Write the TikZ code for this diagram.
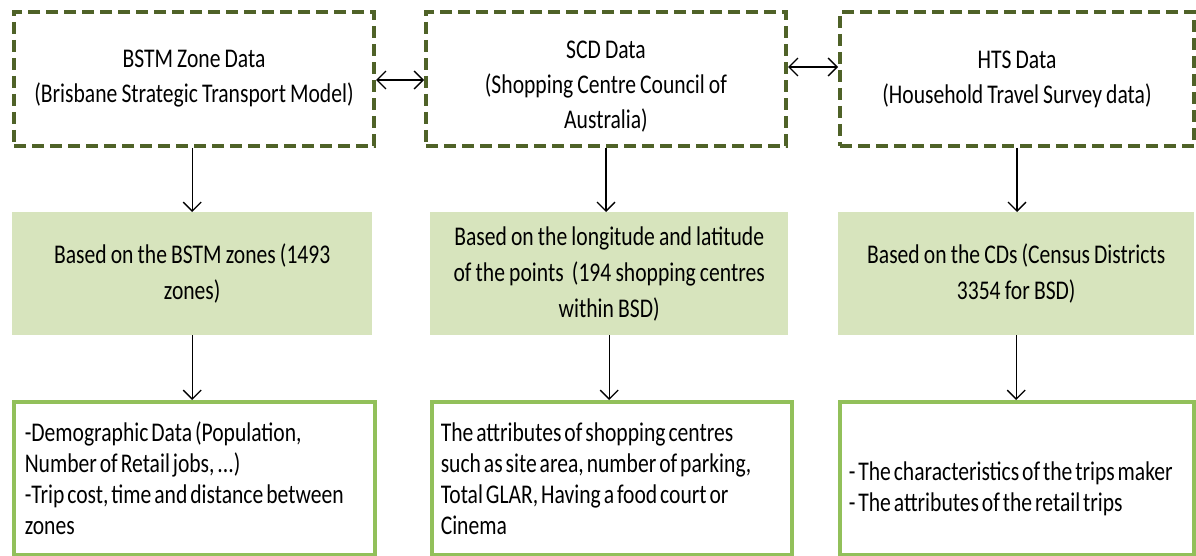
\documentclass[tikz,border=0pt]{standalone}
\usepackage{fontspec}
\setmainfont{Carlito}[FakeStretch=0.8, WordSpace=0.85]
\newfontfamily\botfont{Carlito}[FakeStretch=0.8, WordSpace=0.6]
\usetikzlibrary{arrows.meta}
\definecolor{olivedark}{HTML}{4F6228}
\definecolor{olivefill}{HTML}{D7E4BD}
\definecolor{olivebord}{HTML}{92C05A}
\tikzset{
  topbox/.style={draw=olivedark, line width=4pt, dash pattern=on 12pt off 6pt, fill=white,
    anchor=north west, minimum width=#1, minimum height=134pt, align=center,
    font=\fontsize{27pt}{35pt}\selectfont, inner sep=0pt},
  midbox/.style={fill=olivefill, draw=none, anchor=north west, minimum width=#1,
    minimum height=123pt, align=center, font=\fontsize{27pt}{36pt}\selectfont, inner sep=0pt},
  botbox/.style={draw=olivebord, line width=3.5pt, fill=white, anchor=north west,
    minimum width=#1, minimum height=153pt, align=flush left, text width=#1-18pt,
    font=\botfont\fontsize{27pt}{31pt}\selectfont, inner sep=0pt},
  arr/.style={draw=black, line width=1.3pt, -{Straight Barb[length=9pt,width=18pt,line width=1.3pt]}},
  darr/.style={draw=black, line width=1.3pt, {Straight Barb[length=9pt,width=18pt,line width=1.3pt]}-{Straight Barb[length=9pt,width=18pt,line width=1.3pt]}}
}
\begin{document}
\begin{tikzpicture}[x=1pt,y=-1pt]
\useasboundingbox (0,0) rectangle (1196,556);
% top row
\node[topbox=360pt] (t1) at (12,10) {BSTM Zone Data\\(Brisbane Strategic Transport Model)};
\node[topbox=360pt] (t2) at (424,10) {\rule{0pt}{32pt}SCD Data\\(Shopping Centre Council of\\Australia)};
\node[topbox=354pt] (t3) at (838,10) {HTS Data\\(Household Travel Survey data)};
% middle row
\node[midbox=360pt] (m1) at (12,212) {Based on the BSTM zones (1493\\zones)};
\node[midbox=358pt] (m2) at (430,212) {Based on the longitude and latitude\\of the points~~(194 shopping centres\\within BSD)};
\node[midbox=356pt] (m3) at (838,212) {Based on the CDs (Census Districts\\3354 for BSD)};
% bottom row
\node[botbox=361pt] (b1) at (12,400) {\hspace*{2pt}-Demographic Data (Population,\\\hspace*{2pt}Number of Retail jobs, ...)\\\hspace*{2pt}-Trip cost, time and distance between\\\hspace*{2pt}zones};
\node[botbox=360pt] (b2) at (430,400) {The attributes of shopping centres\\such as site area, number of parking,\\Total GLAR, Having a food court or\\Cinema};
\node[botbox=354pt] (b3) at (838,400) {\rule{0pt}{40pt}- The characteristics of the trips maker\\- The attributes of the retail trips};
% horizontal double arrows
\coordinate (h1) at (0,80);
\coordinate (h2) at (0,67);
\draw[darr] (t1.east |- h1) -- (t2.west |- h1);
\draw[darr] (t2.east |- h2) -- (t3.west |- h2);
% vertical arrows
\draw[arr] (t1.south -| m1.north) -- (m1.north);
\draw[arr] (t2.south) -- (t2.south |- m2.north);
\draw[arr] (t3.south) -- (t3.south |- m3.north);
\draw[arr] (m1.south) -- (m1.south |- b1.north);
\draw[arr] (m2.south) -- (m2.south |- b2.north);
\draw[arr] (m3.south) -- (m3.south |- b3.north);
\end{tikzpicture}
\end{document}
